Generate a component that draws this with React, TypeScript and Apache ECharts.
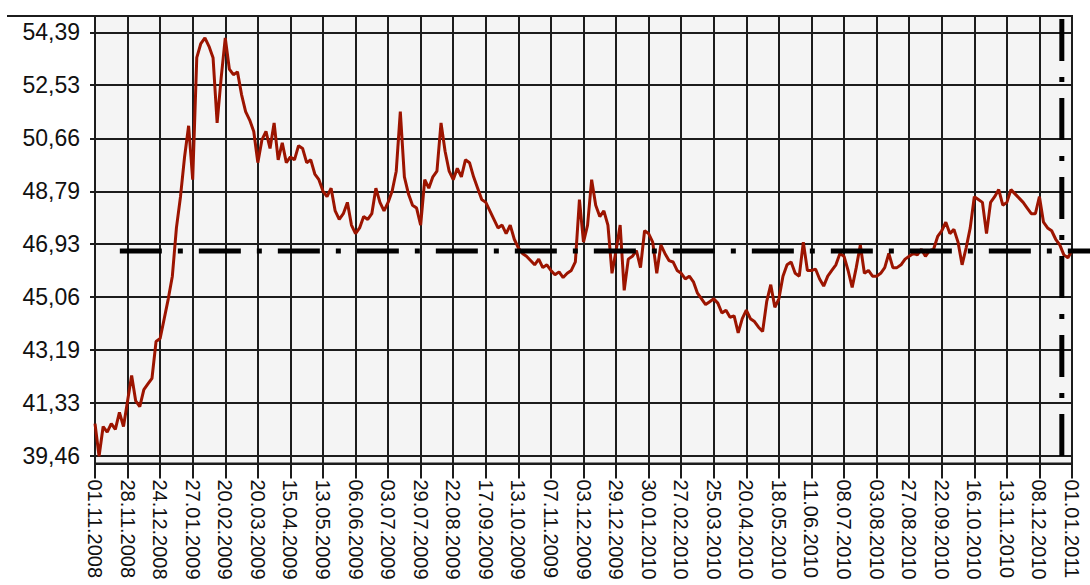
import React, { useEffect, useRef } from "react";
import * as echarts from "echarts";

// X-axis tick labels (one every 8 points)
const tickLabels = [
  "01.11.2008", "28.11.2008", "24.12.2008", "27.01.2009", "20.02.2009", "20.03.2009",
  "15.04.2009", "13.05.2009", "06.06.2009", "03.07.2009", "29.07.2009", "22.08.2009",
  "17.09.2009", "13.10.2009", "07.11.2009", "03.12.2009", "29.12.2009", "30.01.2010",
  "27.02.2010", "25.03.2010", "20.04.2010", "18.05.2010", "11.06.2010", "08.07.2010",
  "03.08.2010", "27.08.2010", "22.09.2010", "16.10.2010", "13.11.2010", "08.12.2010",
  "01.01.2011",
];
const pointsPerTick = 8;

// Y-axis tick values
const yTickValues = [39.46, 41.33, 43.19, 45.06, 46.93, 48.79, 50.66, 52.53, 54.39];
const yMin = 39.196;
const yMax = 54.97;

// Rate values
const ratesA = [
  40.6, 39.45, 40.5, 40.3, 40.6, 40.4, 41.0, 40.5,
  41.4, 42.3, 41.4, 41.2, 41.8, 42.0, 42.2, 43.5,
  43.6, 44.3, 45.0, 45.8, 47.5, 48.6, 50.0, 51.1,
  49.2, 53.5, 54.0, 54.2, 53.9, 53.5, 51.2, 52.8,
  54.2, 53.1, 52.9, 53.0, 52.2, 51.6, 51.3, 50.9,
  49.8, 50.6, 50.9, 50.3, 51.2, 49.9, 50.5, 49.8,
];
const ratesB = [
  50.0, 49.9, 50.4, 50.3, 49.8, 49.9, 49.4, 49.2,
  48.8, 48.6, 48.9, 48.1, 47.8, 48.0, 48.4, 47.6,
  47.3, 47.5, 47.9, 47.8, 48.0, 48.9, 48.4, 48.1,
  48.4, 48.8, 49.5, 51.6, 49.3, 48.7, 48.3, 48.2,
  47.6, 49.2, 48.9, 49.3, 49.5, 51.2, 50.2, 49.5,
  49.2, 49.6, 49.3, 49.9, 49.8, 49.3, 48.9, 48.5,
];
const ratesC = [
  48.4, 48.1, 47.8, 47.5, 47.6, 47.3, 47.6, 47.1,
  46.8, 46.6, 46.5, 46.35, 46.2, 46.4, 46.1, 46.2,
  46.0, 45.85, 45.95, 45.75, 45.9, 46.0, 46.3, 48.5,
  47.0, 47.6, 49.2, 48.3, 47.9, 48.1, 47.6, 45.9,
  46.7, 47.6, 45.3, 46.4, 46.5, 46.7, 46.1, 47.4,
  47.3, 47.0, 45.9, 46.9, 46.6, 46.35, 46.3, 46.0,
];
const ratesD = [
  45.9, 45.7, 45.8, 45.6, 45.2, 45.0, 44.8, 44.9,
  45.0, 44.85, 44.5, 44.6, 44.35, 44.4, 43.8, 44.3,
  44.6, 44.3, 44.2, 44.0, 43.85, 44.9, 45.5, 44.7,
  45.0, 45.8, 46.2, 46.3, 45.9, 45.8, 47.0, 46.0,
  46.0, 46.05, 45.7, 45.45, 45.8, 46.0, 46.2, 46.6,
  46.5, 46.0, 45.4, 46.1, 46.9, 45.9, 46.0, 45.8,
];
const ratesE = [
  45.8, 45.9, 46.1, 46.6, 46.1, 46.1, 46.2, 46.4,
  46.5, 46.6, 46.55, 46.75, 46.5, 46.7, 46.75, 47.2,
  47.4, 47.7, 47.3, 47.45, 47.0, 46.2, 46.8, 47.5,
  48.6, 48.5, 48.4, 47.3, 48.4, 48.6, 48.85, 48.3,
  48.4, 48.85, 48.7, 48.55, 48.4, 48.2, 48.0, 48.0,
  48.6, 47.7, 47.5, 47.4, 47.1, 46.9, 46.55, 46.45, 46.7,
];

// Reference lines
const meanValue = 46.69;
const meanLineStartIndex = 6.1;
const markerIndex = 237.5;

const DASH_DOT = [42, 16, 5, 16];

export default function App() {
  const ref = useRef<HTMLDivElement>(null);

  useEffect(() => {
    if (!ref.current) return;
    const chart = echarts.init(ref.current, null, { renderer: "svg" });
    const rates = [...ratesA, ...ratesB, ...ratesC, ...ratesD, ...ratesE];
    const lastIndex = rates.length - 1;
    const gridColor = "#1c1c1c";
    const textColor = "#111";

    chart.setOption({
      animation: false,
      grid: {
        left: 95,
        right: 18,
        top: 16,
        bottom: 121.5,
        show: true,
        backgroundColor: "#f4f4f4",
        borderColor: gridColor,
        borderWidth: 2,
      },
      xAxis: {
        type: "value",
        min: 0,
        max: lastIndex,
        interval: pointsPerTick,
        axisLine: { show: true, onZero: false, lineStyle: { color: gridColor, width: 2 } },
        axisTick: { show: true, length: 15, lineStyle: { color: gridColor, width: 2 } },
        axisLabel: {
          rotate: -90,
          margin: 16,
          fontFamily: "Liberation Sans",
          fontSize: 20,
          color: textColor,
          showMinLabel: true,
          showMaxLabel: true,
          formatter: (v: number) => tickLabels[Math.round(v / pointsPerTick)] ?? "",
        },
        splitLine: { show: true, lineStyle: { color: gridColor, width: 2 } },
      },
      yAxis: {
        type: "value",
        min: yMin,
        max: yMax,
        axisLine: { show: true, lineStyle: { color: gridColor, width: 2 } },
        axisTick: { show: true, length: 5, customValues: yTickValues, lineStyle: { color: gridColor, width: 2 } },
        axisLabel: {
          customValues: yTickValues,
          margin: 15,
          fontFamily: "Liberation Sans",
          fontSize: 23,
          color: textColor,
          formatter: (v: number) => v.toFixed(2).replace(".", ","),
        },
        splitLine: { show: true, lineStyle: { color: gridColor, width: 2 } },
      },
      series: [
        {
          type: "line",
          data: rates.map((v, i) => [i, v]),
          symbol: "none",
          showSymbol: false,
          lineStyle: { color: "#9c1400", width: 3 },
          z: 3,
        },
      ],
    });

    const xStart = chart.convertToPixel({ xAxisIndex: 0 }, meanLineStartIndex) as number;
    const yMean = chart.convertToPixel({ yAxisIndex: 0 }, meanValue) as number;
    const xMarker = chart.convertToPixel({ xAxisIndex: 0 }, markerIndex) as number;
    const yTopPx = chart.convertToPixel({ yAxisIndex: 0 }, yMax) as number;
    const yBotPx = chart.convertToPixel({ yAxisIndex: 0 }, yMin) as number;
    const xLeftPx = chart.convertToPixel({ xAxisIndex: 0 }, 0) as number;
    const width = chart.getWidth();

    chart.setOption({
      graphic: [
        {
          type: "line",
          shape: { x1: 7, y1: yTopPx, x2: xLeftPx, y2: yTopPx },
          style: { stroke: gridColor, lineWidth: 2 },
          z: 10,
        },
        {
          type: "line",
          shape: { x1: xStart, y1: yMean, x2: width, y2: yMean },
          style: { stroke: "#000", lineWidth: 5, lineDash: DASH_DOT },
          z: 20,
        },
        {
          type: "line",
          shape: { x1: xMarker, y1: yTopPx + 3, x2: xMarker, y2: yBotPx - 3.5 },
          style: { stroke: "#000", lineWidth: 5, lineDash: DASH_DOT },
          z: 20,
        },
      ],
    });

    return () => chart.dispose();
  }, []);

  return (
    <div
      ref={ref}
      style={{ position: "absolute", left: 0, top: 0, width: 1090, height: 585, background: "#fff" }}
    />
  );
}
